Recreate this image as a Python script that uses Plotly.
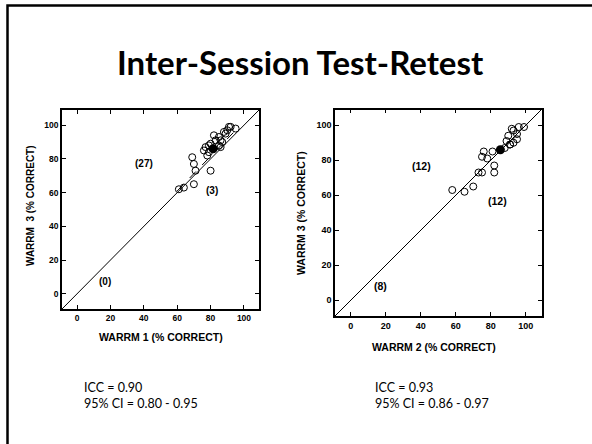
import plotly.graph_objects as go

W, H = 592, 444

# ---- data: left panel (WARRM 1 vs WARRM 3)
left_x = [61, 64, 70, 70, 71, 69, 80, 76, 77, 79, 78, 80, 82, 83, 85, 86, 87, 88, 89, 90, 91, 92, 95, 85, 86, 79]
left_y = [62, 63, 65, 77, 73, 81, 73, 85, 87, 88, 82, 89, 94, 91, 93, 87, 90, 96, 95, 97, 99, 99, 98, 88, 91, 84]
left_mean = (81.5, 86)
left_fit_x = [60, 95]
left_fit_y = [61, 97]
left_counts = [("(27)", 40, 77), ("(3)", 81, 61), ("(0)", 17, 7.5)]

# ---- data: right panel (WARRM 2 vs WARRM 3)
right_x = [58, 65, 70, 73, 75, 75, 76, 78, 81, 82, 82, 88, 89, 90, 91, 91, 92, 93, 93, 95, 95, 96, 99]
right_y = [63, 62, 65, 73, 73, 82, 85, 81, 85, 77, 73, 87, 91, 94, 89, 89, 98, 90, 97, 95, 92, 99, 99]
right_mean = (85.5, 86)
right_counts = [("(12)", 40.5, 77), ("(12)", 84, 56.5), ("(8)", 17, 8)]

axis_range = [-9, 109]
tick_vals = [0, 20, 40, 60, 80, 100]

fig = go.Figure()

def add_panel(xs, ys, mean, xa, ya):
    fig.add_trace(go.Scatter(x=axis_range, y=axis_range, mode="lines",
                             line=dict(color="black", width=1), xaxis=xa, yaxis=ya,
                             showlegend=False, hoverinfo="skip"))
    fig.add_trace(go.Scatter(x=xs, y=ys, mode="markers",
                             marker=dict(symbol="circle-open", size=7, color="black",
                                         line=dict(width=1, color="black")),
                             xaxis=xa, yaxis=ya, showlegend=False))
    fig.add_trace(go.Scatter(x=[mean[0]], y=[mean[1]], mode="markers",
                             marker=dict(symbol="circle", size=9, color="black"),
                             xaxis=xa, yaxis=ya, showlegend=False))

fig.add_trace(go.Scatter(x=left_fit_x, y=left_fit_y, mode="lines",
                         line=dict(color="black", width=1, dash="dash"),
                         xaxis="x", yaxis="y", showlegend=False, hoverinfo="skip"))
add_panel(left_x, left_y, left_mean, "x", "y")
add_panel(right_x, right_y, right_mean, "x2", "y2")

def ax(domain, fsize, anchor):
    return dict(domain=domain, range=axis_range, tickvals=tick_vals,
                ticks="inside", ticklen=4, tickwidth=1.2, tickcolor="black",
                showline=True, linecolor="black", linewidth=1.5, mirror="ticks",
                showgrid=False, zeroline=False, anchor=anchor,
                tickfont=dict(family="Liberation Sans, Arial", size=fsize, color="black", weight="bold"))

fig.update_layout(
    width=W, height=H, margin=dict(l=0, r=0, t=0, b=0),
    paper_bgcolor="white", plot_bgcolor="white",
    xaxis=ax([62 / W, 259 / W], 8.5, "y"),
    yaxis=ax([1 - 309 / H, 1 - 110 / H], 8.5, "x"),
    xaxis2=ax([335 / W, 541.5 / W], 9, "y2"),
    yaxis2=ax([1 - 316 / H, 1 - 109.5 / H], 9, "x2"),
)

ann = []
for t, x, y in left_counts:
    ann.append(dict(text=t, x=x, y=y, xref="x", yref="y", showarrow=False,
                    font=dict(family="Liberation Sans, Arial", size=10, color="black", weight="bold")))
for t, x, y in right_counts:
    ann.append(dict(text=t, x=x, y=y, xref="x2", yref="y2", showarrow=False,
                    font=dict(family="Liberation Sans, Arial", size=10.5, color="black", weight="bold")))

def ptext(t, px, py, size, family, bold=True, angle=0, xanchor="center", yanchor="middle", align="center"):
    ann.append(dict(text=t, x=px / W, y=1 - py / H, xref="paper", yref="paper",
                    showarrow=False, textangle=angle, xanchor=xanchor, yanchor=yanchor, align=align,
                    font=dict(family=family, size=size, color="black",
                              weight="bold" if bold else "normal")))

ptext("Inter-Session Test-Retest", 300, 62, 33, "Lato")
ptext("WARRM 1 (% CORRECT)", 161, 337, 10.5, "Liberation Sans, Arial")
ptext("WARRM  3 (% CORRECT)", 31, 206, 10, "Liberation Sans, Arial", angle=-90)
ptext("WARRM 2 (% CORRECT)", 434, 347, 10.5, "Liberation Sans, Arial")
ptext("WARRM 3 (% CORRECT)", 301, 213, 10.5, "Liberation Sans, Arial", angle=-90)
ptext("ICC = 0.90<br>95% CI = 0.80 - 0.95", 82, 395, 12.5, "Lato", bold=False, xanchor="left", align="left")
ptext("ICC = 0.93<br>95% CI = 0.86 - 0.97", 373, 395, 12.5, "Lato", bold=False, xanchor="left", align="left")

fig.update_layout(annotations=ann)

fig.add_shape(type="rect", xref="paper", yref="paper",
              x0=7.5 / W, x1=605 / W, y0=-20 / H, y1=1 - 5.5 / H,
              line=dict(color="black", width=2.5), fillcolor="rgba(0,0,0,0)")

fig.write_html("out.html")
